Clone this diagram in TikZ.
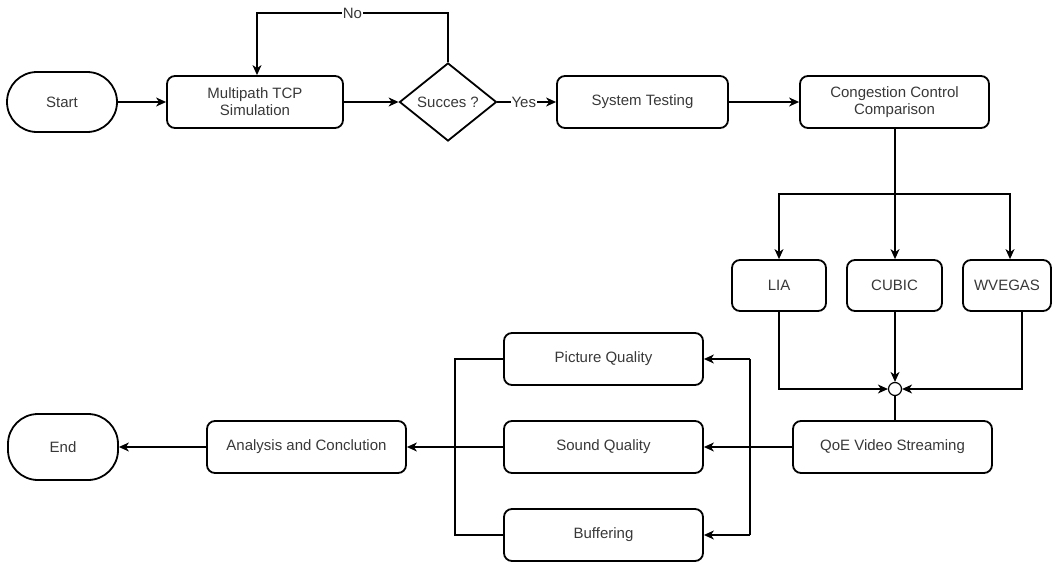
\documentclass[tikz,border=0pt]{standalone}
\usepackage{fontspec}
\setmainfont{Liberation Sans}
\usetikzlibrary{shapes.geometric,arrows.meta}
\begin{document}
\begin{tikzpicture}[x=1pt,y=-1pt,
  font=\fontsize{15}{17}\selectfont,
  box/.style={draw,line width=1.8pt,rounded corners=8pt,inner sep=0pt,align=center,text=black!78},
  term/.style={draw,line width=1.8pt,rounded corners=30pt,inner sep=0pt,text=black!78},
  conn/.style={line width=1.2pt},
  arr/.style={conn,-{Stealth[length=10pt,width=9pt,inset=3pt]}},
  lbl/.style={fill=white,inner sep=1pt,text=black!78}]
\useasboundingbox (0,0) rectangle (1052,562);
\node[term,minimum width=110pt,minimum height=60pt] (start) at (62,102) {Start};
\node[box,minimum width=176pt,minimum height=52pt] (sim) at (255,102) {Multipath TCP\\Simulation};
\node[draw,diamond,line width=1.8pt,minimum width=97pt,minimum height=78pt,inner sep=0pt,text=black!78] (dec) at (448,102) {Succes ?};
\node[box,minimum width=171pt,minimum height=52pt] (test) at (642.5,102) {System Testing};
\node[box,minimum width=189pt,minimum height=52pt] (ccc) at (894.5,102) {Congestion Control\\Comparison};
\node[box,minimum width=94pt,minimum height=51pt] (lia) at (779,285.5) {LIA};
\node[box,minimum width=95pt,minimum height=51pt] (cubic) at (894.5,285.5) {CUBIC};
\node[box,minimum width=88pt,minimum height=51pt] (wvegas) at (1007,285.5) {WVEGAS};
\node[draw,circle,line width=1.2pt,minimum size=13pt,inner sep=0pt] (join) at (895,389) {};
\node[box,minimum width=199pt,minimum height=52pt] (qoe) at (892.5,447) {QoE Video Streaming};
\node[box,minimum width=199pt,minimum height=52pt] (pq) at (603.5,359) {Picture Quality};
\node[box,minimum width=199pt,minimum height=52pt] (sq) at (603.5,447) {Sound Quality};
\node[box,minimum width=199pt,minimum height=52pt] (buf) at (603.5,535) {Buffering};
\node[box,minimum width=199pt,minimum height=52pt] (ana) at (306.5,447) {Analysis and Conclution};
\node[term,minimum width=110pt,minimum height=66pt] (end) at (63,447) {End};
% coordinates
\coordinate (noR) at (448,13);
\coordinate (noL) at (257,13);
\coordinate (brL) at (779,194);
\coordinate (brM) at (895,194);
\coordinate (brR) at (1010,194);
\coordinate (liaD) at (779,389);
\coordinate (wvD) at (1022,389);
\coordinate (rbT) at (750,359);
\coordinate (rbB) at (750,535);
\coordinate (lbT) at (455,359);
\coordinate (lbB) at (455,535);
% connectors
\draw[arr] (start.east) -- (sim.west);
\draw[arr] (sim.east) -- (dec.west);
\draw[arr] (dec.north) -- (noR) -- node[lbl,pos=0.5] {No} (noL) -- (sim.north -| noL);
\draw[arr] (dec.east) -- node[lbl,pos=0.45] {Yes} (test.west);
\draw[arr] (test.east) -- (ccc.west);
\draw[conn] (ccc.south -| brM) -- (brM);
\draw[arr] (brM) -- (brL) -- (lia.north);
\draw[arr] (brM) -- (cubic.north -| brM);
\draw[arr] (brM) -- (brR) -- (wvegas.north -| brR);
\draw[arr] (lia.south) -- (liaD) -- (join.west);
\draw[arr] (cubic.south -| join) -- (join.north);
\draw[arr] (wvegas.south -| wvD) -- (wvD) -- (join.east);
\draw[conn] (join.south) -- (qoe.north -| join);
\draw[arr] (qoe.west) -- (sq.east);
\draw[conn] (rbT) -- (rbB);
\draw[arr] (rbT) -- (pq.east);
\draw[arr] (rbB) -- (buf.east);
\draw[conn] (pq.west) -- (lbT) -- (lbB) -- (buf.west);
\draw[arr] (sq.west) -- (ana.east);
\draw[arr] (ana.west) -- (end.east);
\end{tikzpicture}
\end{document}
